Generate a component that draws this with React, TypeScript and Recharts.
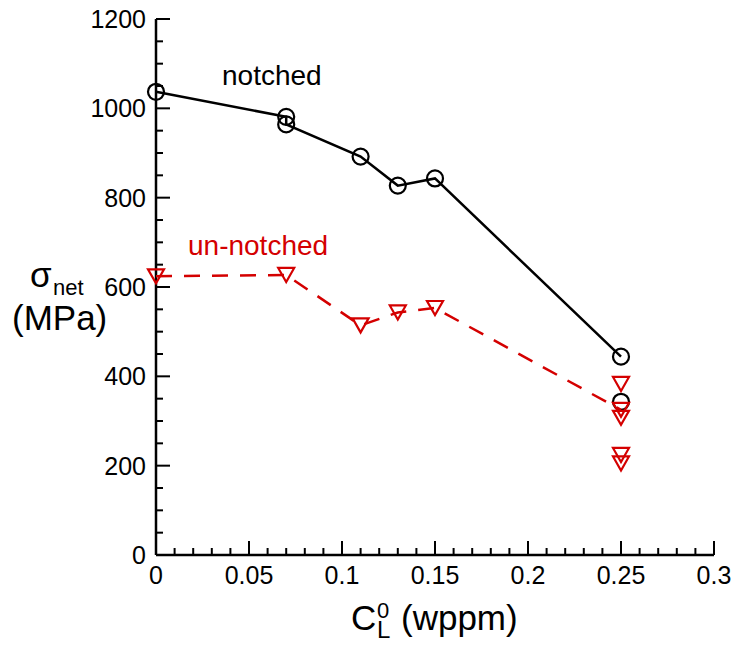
import React from 'react';
import { ComposedChart, Scatter, XAxis, YAxis } from 'recharts';

// notched specimens, connected in order
const notchedX = [0, 0.07, 0.07, 0.11, 0.13, 0.15, 0.25];
const notchedY = [1037, 981, 964, 892, 827, 843, 444];
// notched point not on the curve
const notchedExtraX = [0.25];
const notchedExtraY = [343];

// un-notched specimens, connected in order
const unnotchedX = [0, 0.07, 0.11, 0.13, 0.15, 0.25];
const unnotchedY = [624, 627, 514, 543, 553, 325];
// un-notched points not on the curve
const unnotchedExtraX = [0.25, 0.25, 0.25, 0.25];
const unnotchedExtraY = [383, 307, 224, 205];

const xMajor = [0, 0.05, 0.1, 0.15, 0.2, 0.25, 0.3];
const xTickLabels = ['0', '0.05', '0.1', '0.15', '0.2', '0.25', '0.3'];
const xMinor = [0.01, 0.02, 0.03, 0.04, 0.06, 0.07, 0.08, 0.09, 0.11, 0.12, 0.13, 0.14,
  0.16, 0.17, 0.18, 0.19, 0.21, 0.22, 0.23, 0.24, 0.26, 0.27, 0.28, 0.29];
const yMajor = [0, 200, 400, 600, 800, 1000, 1200];
const yTickLabels = ['0', '200', '400', '600', '800', '1000', '1200'];
const yMinor = [50, 100, 150, 250, 300, 350, 450, 500, 550, 650, 700, 750, 850, 900, 950, 1050, 1100, 1150];

const RED = '#d40000';
const FONT = '"Liberation Sans", Arial, Helvetica, sans-serif';

const zip = (xs: number[], ys: number[]) => xs.map((x, i) => ({ x, y: ys[i] }));

const notched = zip(notchedX, notchedY);
const notchedExtra = zip(notchedExtraX, notchedExtraY);
const unnotched = zip(unnotchedX, unnotchedY);
const unnotchedExtra = zip(unnotchedExtraX, unnotchedExtraY);

const xTicks = [...xMajor, ...xMinor].sort((a, b) => a - b);
const yTicks = [...yMajor, ...yMinor].sort((a, b) => a - b);

const majorIndex = (list: number[], v: number) =>
  list.findIndex((m) => Math.abs(m - v) < 1e-9);

const XTick = (props: any) => {
  const { x, y, payload } = props;
  const i = majorIndex(xMajor, payload.value);
  const len = i >= 0 ? 14 : 7;
  return (
    <g>
      <line x1={x} y1={y} x2={x} y2={y - len} stroke="#000" strokeWidth={2} />
      {i >= 0 && (
        <text x={x} y={y + 29} textAnchor="middle" fontSize={25} fontFamily={FONT} fill="#000">
          {xTickLabels[i]}
        </text>
      )}
    </g>
  );
};

const YTick = (props: any) => {
  const { x, y, payload } = props;
  const i = majorIndex(yMajor, payload.value);
  const len = i >= 0 ? 14 : 7;
  return (
    <g>
      <line x1={x} y1={y} x2={x + len} y2={y} stroke="#000" strokeWidth={2} />
      {i >= 0 && (
        <text x={x - 10} y={y + 9} textAnchor="end" fontSize={25} fontFamily={FONT} fill="#000">
          {yTickLabels[i]}
        </text>
      )}
    </g>
  );
};

const Circle = (props: any) => (
  <circle cx={props.cx} cy={props.cy} r={8} fill="none" stroke="#000" strokeWidth={2.2} />
);

const Triangle = (props: any) => {
  const { cx, cy } = props;
  return (
    <polygon
      points={`${cx - 8},${cy - 7} ${cx + 8},${cy - 7} ${cx},${cy + 7}`}
      fill="none"
      stroke={RED}
      strokeWidth={2.2}
    />
  );
};

export default function App() {
  return (
    <div style={{ position: 'relative', width: 725, height: 633, fontFamily: FONT }}>
      <ComposedChart width={725} height={633} margin={{ top: 11, right: 19, bottom: 46, left: 88 }}>
        <XAxis
          type="number"
          dataKey="x"
          domain={[0, 0.3]}
          ticks={xTicks}
          interval={0}
          tick={XTick}
          tickLine={false}
          tickSize={0}
          tickMargin={0}
          height={40}
          axisLine={{ stroke: '#000', strokeWidth: 2.5 }}
        />
        <YAxis
          type="number"
          dataKey="y"
          domain={[0, 1200]}
          ticks={yTicks}
          interval={0}
          tick={YTick}
          tickLine={false}
          tickSize={0}
          tickMargin={0}
          width={60}
          axisLine={{ stroke: '#000', strokeWidth: 2.5 }}
        />
        <Scatter
          data={notched}
          line={{ stroke: '#000', strokeWidth: 2.5 }}
          shape={Circle}
          isAnimationActive={false}
        />
        <Scatter data={notchedExtra} shape={Circle} isAnimationActive={false} />
        <Scatter
          data={unnotched}
          line={{ stroke: RED, strokeWidth: 2.5, strokeDasharray: '16 12' }}
          shape={Triangle}
          isAnimationActive={false}
        />
        <Scatter data={unnotchedExtra} shape={Triangle} isAnimationActive={false} />
      </ComposedChart>
      <svg
        width={725}
        height={633}
        style={{ position: 'absolute', left: 0, top: 0, pointerEvents: 'none' }}
        fontFamily={FONT}
      >
        <text x={214} y={77} fontSize={28} fill="#000">notched</text>
        <text x={180} y={247} fontSize={28} fill={RED}>un-notched</text>
        <text x={22} y={279} fontSize={35} fill="#000">σ</text>
        <text x={45} y={287} fontSize={22} fill="#000">net</text>
        <text x={4} y={322} fontSize={35} fill="#000">(MPa)</text>
        <text x={343} y={622} fontSize={35} fill="#000">C</text>
        <text x={369} y={630} fontSize={24} fill="#000">L</text>
        <text x={369} y={610} fontSize={22} fill="#000">0</text>
        <text x={393} y={622} fontSize={35} fill="#000">(wppm)</text>
      </svg>
    </div>
  );
}
